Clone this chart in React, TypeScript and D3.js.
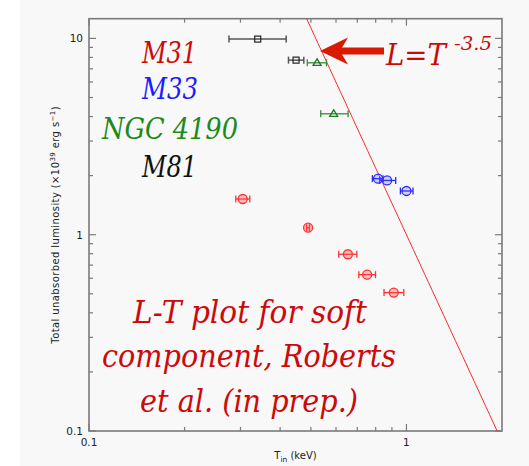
import React from "react";
import * as d3 from "d3";

// ---- data ----
const m31T = [0.305, 0.490, 0.654, 0.752, 0.912];
const m31TLo = [0.290, 0.485, 0.612, 0.708, 0.850];
const m31THi = [0.321, 0.495, 0.698, 0.799, 0.981];
const m31L = [1.52, 1.086, 0.795, 0.626, 0.507];

const m33T = [0.814, 0.869, 1.0];
const m33TLo = [0.781, 0.824, 0.957];
const m33THi = [0.844, 0.925, 1.049];
const m33L = [1.93, 1.89, 1.67];

const ngcT = [0.523, 0.590];
const ngcTLo = [0.487, 0.537];
const ngcTHi = [0.560, 0.655];
const ngcL = [7.51, 4.13];

const m81T = [0.340, 0.449];
const m81TLo = [0.276, 0.425];
const m81THi = [0.418, 0.475];
const m81L = [9.92, 7.75];

const xMajor = [0.1, 1];
const xMinor = [0.2, 0.3, 0.4, 0.5, 0.6, 0.7, 0.8, 0.9];
const yMajor = [0.1, 1, 10];
const yMinor = [0.2, 0.3, 0.4, 0.5, 0.6, 0.7, 0.8, 0.9, 2, 3, 4, 5, 6, 7, 8, 9];
const xTickLabels = ["0.1", "1"];
const yTickLabels = ["0.1", "1", "10"];

const legendNames = ["M31", "M33", "NGC 4190", "M81"];
const captionLines = ["L-T plot for soft", "component, Roberts", "et al. (in prep.)"];
const slopeExp = -3.5;

const W = 529, H = 466;
const L = 89, R = 502, T = 18.7, B = 431;

export default function App() {
  const x = d3.scaleLog().domain([0.1, 2]).range([L, R]);
  const y = d3.scaleLog().domain([0.1, 12.6]).range([B, T]);

  const axisColor = "#7a7a7a";
  const red = "#cc0a0a";
  const blue = "#1c1cff";
  const green = "#1a8a1a";

  const tTop = Math.pow(12.6, 1 / slopeExp);
  const tBot = Math.min(2, Math.pow(0.1, 1 / slopeExp));
  const lineTs = d3.range(0, 51).map((i) => tTop * Math.pow(tBot / tTop, i / 50));
  const linePath = d3.line<number>().x((t) => x(t)).y((t) => y(Math.pow(t, slopeExp)))(lineTs) || "";

  const errBar = (t: number, lo: number, hi: number, l: number, color: string, key: string, w = 1.2) => {
    const cy = y(l);
    return (
      <g key={key} stroke={color} strokeWidth={w} fill="none">
        <line x1={x(lo)} x2={x(hi)} y1={cy} y2={cy} />
        <line x1={x(lo)} x2={x(lo)} y1={cy - 3.5} y2={cy + 3.5} />
        <line x1={x(hi)} x2={x(hi)} y1={cy - 3.5} y2={cy + 3.5} />
      </g>
    );
  };

  const ticks: JSX.Element[] = [];
  const maj = 7, min = 4;
  xMajor.forEach((v, i) => {
    ticks.push(<line key={"xM" + i} x1={x(v)} x2={x(v)} y1={B} y2={B - maj} />);
    ticks.push(<line key={"xMt" + i} x1={x(v)} x2={x(v)} y1={T} y2={T + maj} />);
  });
  xMinor.forEach((v, i) => {
    ticks.push(<line key={"xm" + i} x1={x(v)} x2={x(v)} y1={B} y2={B - min} />);
    ticks.push(<line key={"xmt" + i} x1={x(v)} x2={x(v)} y1={T} y2={T + min} />);
  });
  yMajor.forEach((v, i) => {
    ticks.push(<line key={"yM" + i} x1={L} x2={L + maj} y1={y(v)} y2={y(v)} />);
    ticks.push(<line key={"yMr" + i} x1={R} x2={R - maj} y1={y(v)} y2={y(v)} />);
  });
  yMinor.forEach((v, i) => {
    ticks.push(<line key={"ym" + i} x1={L} x2={L + min} y1={y(v)} y2={y(v)} />);
    ticks.push(<line key={"ymr" + i} x1={R} x2={R - min} y1={y(v)} y2={y(v)} />);
  });

  const serif: React.CSSProperties = { fontFamily: "'DejaVu Serif', 'Liberation Serif', serif", fontStyle: "italic" };
  const sans = "'DejaVu Sans', sans-serif";

  const legendColors = [red, blue, green, "#111"];
  const legendX = [142, 142, 102, 142];
  const legendLen = [55, 56, 136, 55];
  const legendY = [62.7, 99.3, 139.3, 176.7];

  const capX = [133, 102, 140];
  const capLen = [234, 294, 218];
  const capY = [322.7, 366.7, 411.7];

  return (
    <svg width={W} height={H} style={{ position: "absolute", left: 0, top: 0 }}>
      <rect x={0} y={0} width={W} height={H} fill="#ffffff" />
      <rect x={20} y={0} width={W - 20} height={H} fill="#f8f8f8" />

      <g stroke={axisColor} strokeWidth={1.2}>
        {ticks}
      </g>
      <rect x={L} y={T} width={R - L} height={B - T} fill="none" stroke={axisColor} strokeWidth={1.6} />

      <g fontFamily={sans} fontSize={10.5} fill="#222">
        {xMajor.map((v, i) => (
          <text key={"xl" + i} x={x(v)} y={446} textAnchor="middle">{xTickLabels[i]}</text>
        ))}
        {yMajor.map((v, i) => (
          <text key={"yl" + i} x={83} y={y(v) + 4} textAnchor="end">{yTickLabels[i]}</text>
        ))}
      </g>
      <text x={(L + R) / 2} y={459} textAnchor="middle" fontFamily={sans} fontSize={10} fill="#222">
        T<tspan fontSize={7.5} dy={3}>in</tspan>
        <tspan dy={-3}> (keV)</tspan>
      </text>
      <text
        transform={`translate(59,${(T + B) / 2}) rotate(-90)`}
        textAnchor="middle"
        fontFamily={sans}
        fontSize={10}
        fill="#222"
        letterSpacing={0.4}
      >
        Total unabsorbed luminosity (×10<tspan fontSize={7} dy={-4}>39</tspan>
        <tspan dy={4}> erg s</tspan>
        <tspan fontSize={7} dy={-4}>−1</tspan>
        <tspan dy={4}>)</tspan>
      </text>

      <path d={linePath} fill="none" stroke="#ff2a2a" strokeWidth={1} />

      {m81T.map((t, i) => errBar(t, m81TLo[i], m81THi[i], m81L[i], "#555", "m81e" + i, 1.5))}
      {m81T.map((t, i) => (
        <rect key={"m81" + i} x={x(t) - 3} y={y(m81L[i]) - 3} width={6} height={6} fill="none" stroke="#222" strokeWidth={1.2} />
      ))}

      {ngcT.map((t, i) => errBar(t, ngcTLo[i], ngcTHi[i], ngcL[i], "#3a8a3a", "ngce" + i, 1.3))}
      {ngcT.map((t, i) => {
        const cx = x(t), cy = y(ngcL[i]);
        return (
          <path key={"ngc" + i} d={`M${cx - 4},${cy + 2.5} L${cx + 4},${cy + 2.5} L${cx},${cy - 4} Z`} fill="none" stroke="#1f7a1f" strokeWidth={1.3} />
        );
      })}

      {m33T.map((t, i) => errBar(t, m33TLo[i], m33THi[i], m33L[i], "#2a2aff", "m33e" + i, 1.3))}
      {m33T.map((t, i) => (
        <circle key={"m33" + i} cx={x(t)} cy={y(m33L[i])} r={4.5} fill="rgba(80,80,255,0.25)" stroke="#2a2aff" strokeWidth={1.3} />
      ))}

      {m31T.map((t, i) => errBar(t, m31TLo[i], m31THi[i], m31L[i], "#ff3030", "m31e" + i, 1.3))}
      {m31T.map((t, i) => (
        <circle key={"m31" + i} cx={x(t)} cy={y(m31L[i])} r={4.5} fill="rgba(255,80,80,0.35)" stroke="#ff3030" strokeWidth={1.3} />
      ))}

      <g style={serif} fontSize={30}>
        {legendNames.map((n, i) => (
          <text key={"lg" + i} x={legendX[i]} y={legendY[i]} fill={legendColors[i]} textLength={legendLen[i]} lengthAdjust="spacingAndGlyphs">
            {n}
          </text>
        ))}
      </g>

      <g fill="#d81a00" stroke="none">
        <rect x={340} y={47.5} width={44} height={7} />
        <path d="M320,51 L348,37.5 L340,51 L348,64.5 Z" />
      </g>
      <text x={386} y={65} style={serif} fontSize={30} fill={red} textLength={60} lengthAdjust="spacingAndGlyphs">
        L=T
      </text>
      <text x={454} y={50} style={serif} fontSize={19} fill={red} textLength={38} lengthAdjust="spacingAndGlyphs">
        -3.5
      </text>

      <g style={serif} fontSize={32} fill={red}>
        {captionLines.map((c, i) => (
          <text key={"cap" + i} x={capX[i]} y={capY[i]} textLength={capLen[i]} lengthAdjust="spacingAndGlyphs">
            {c}
          </text>
        ))}
      </g>
    </svg>
  );
}
